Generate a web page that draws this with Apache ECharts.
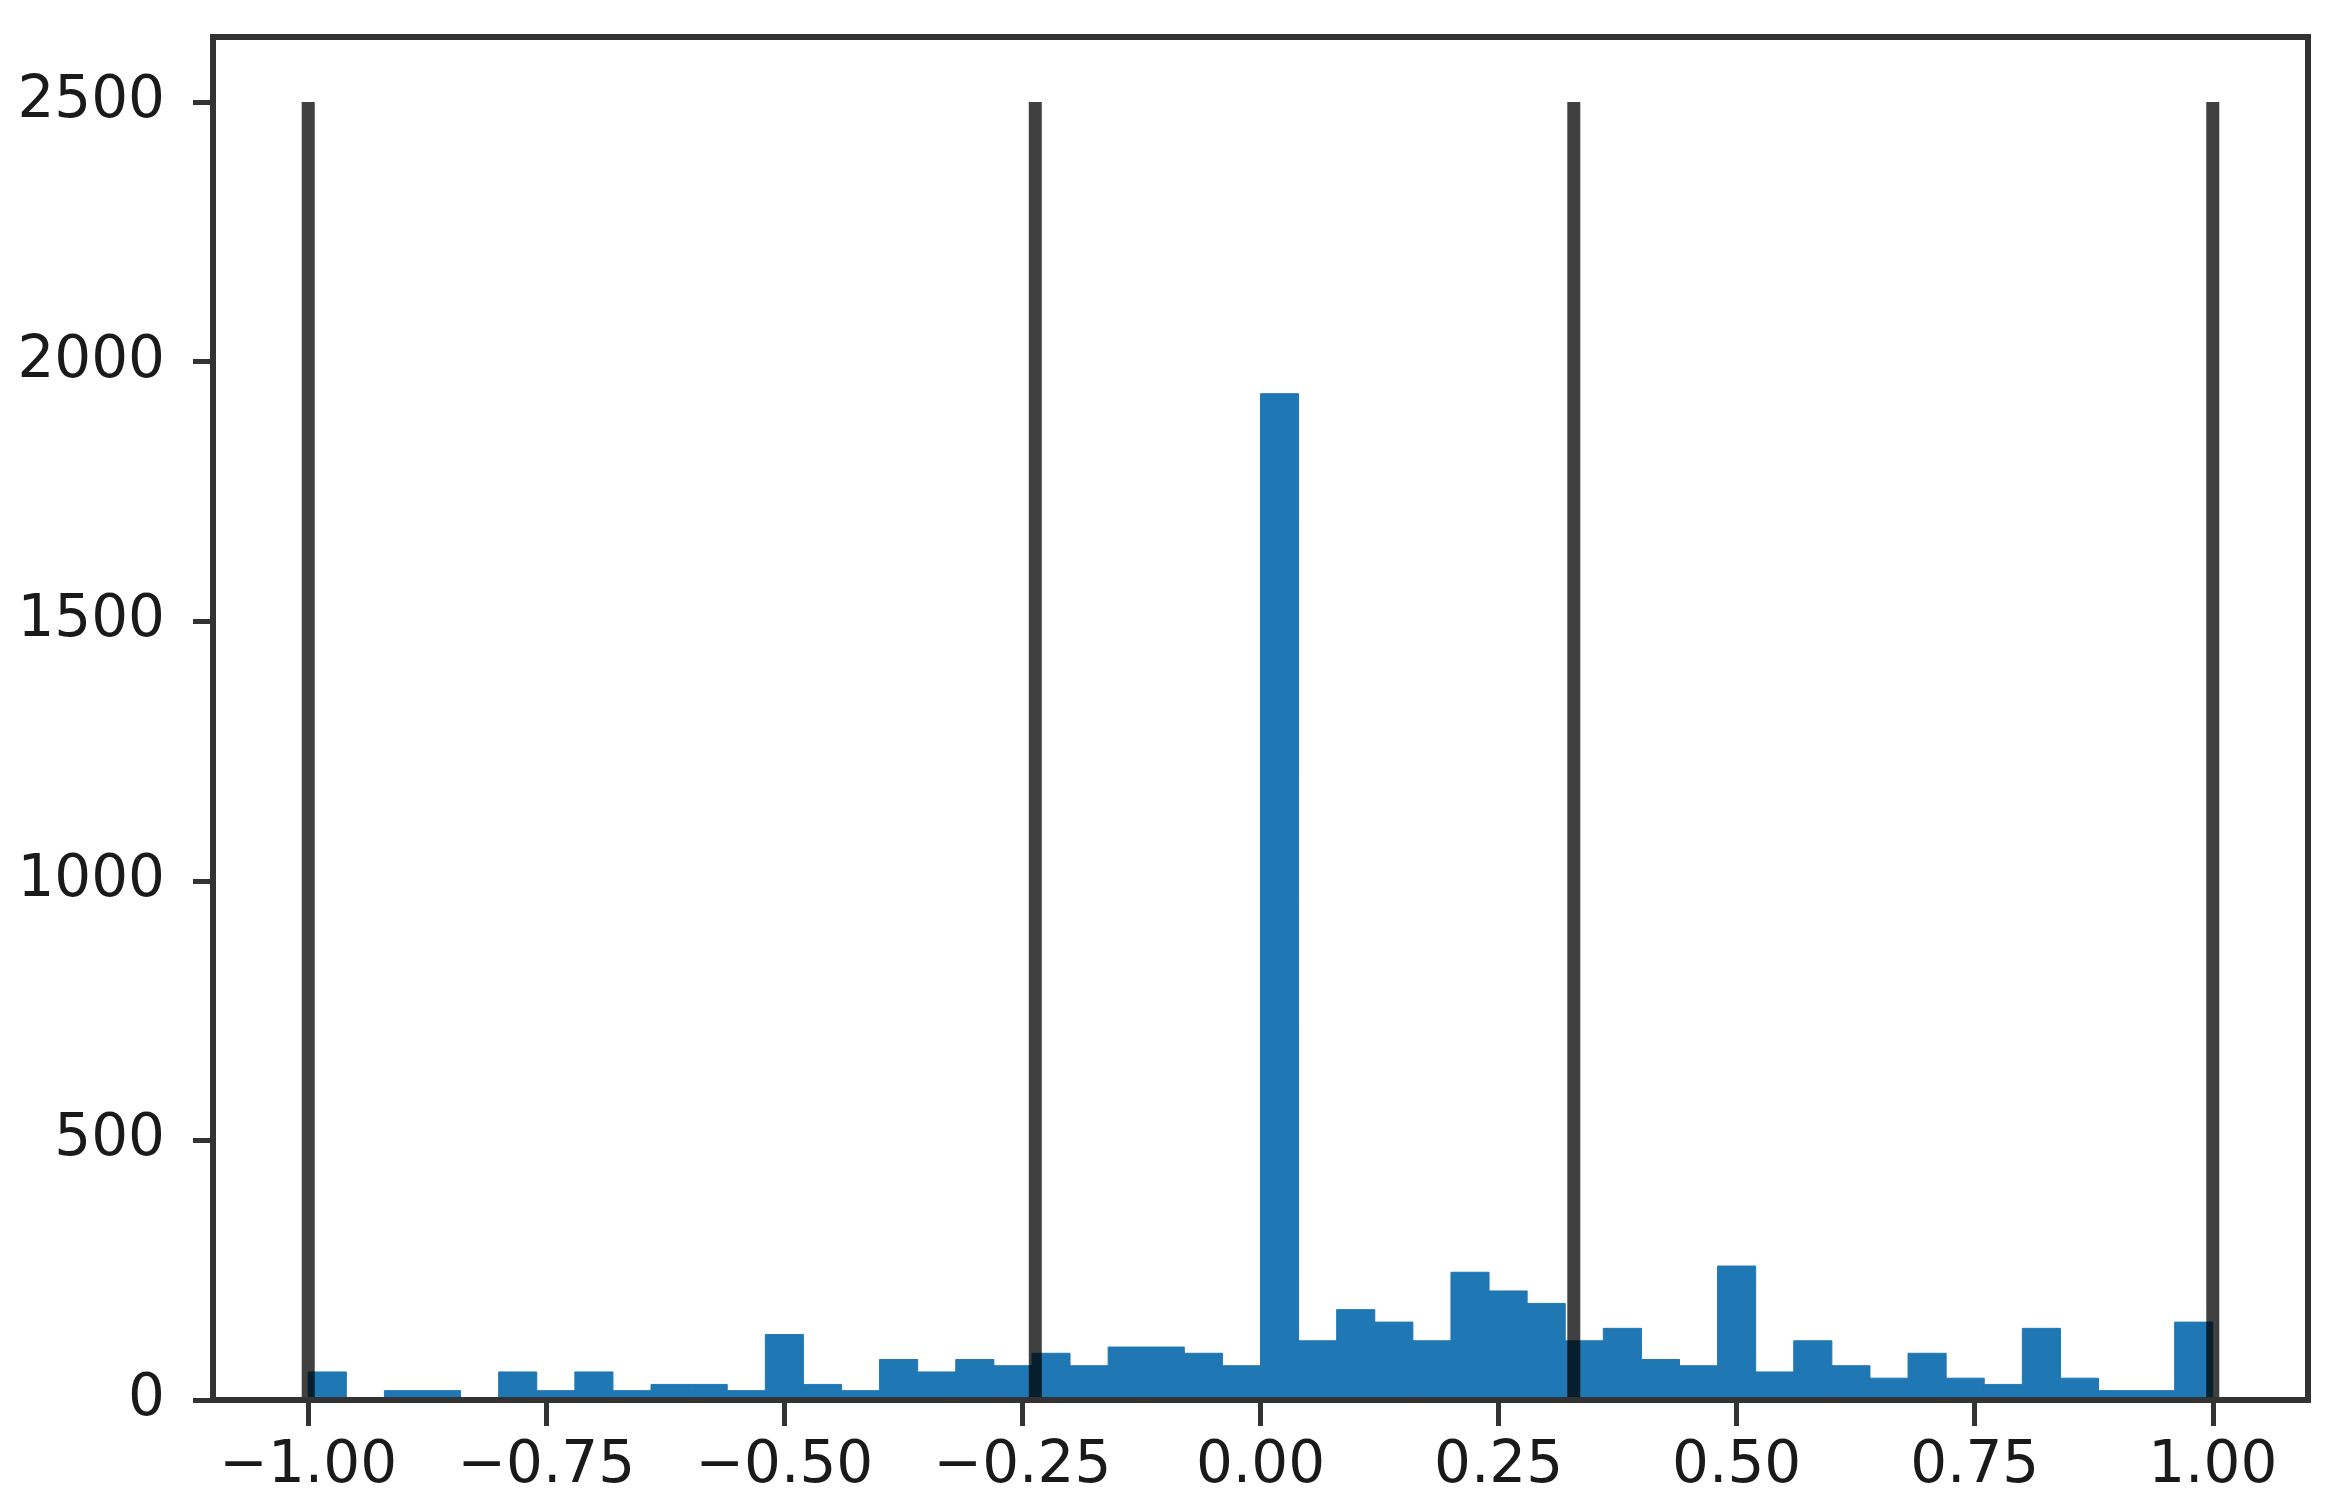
<!DOCTYPE html>
<html>
<head>
<meta charset="utf-8">
<script src="https://cdn.jsdelivr.net/npm/echarts@6/dist/echarts.min.js"></script>
<style>
    html, body { margin: 0; padding: 0; background: #fff; }
    #chart { width: 2336px; height: 1510px; }
</style>
</head>
<body>
<div id="chart"></div>
<script>
// histogram: 50 bins of width 0.04 from -1 to 1
const binStart = -1
const binWidth = 0.04
const counts = [
    54, 0, 18, 18, 0, 54, 18, 54, 18, 30,
    30, 18, 126, 30, 18, 78, 54, 78, 66, 90,
    66, 102, 102, 90, 66, 1938, 114, 174, 150, 114,
    246, 210, 186, 114, 138, 78, 66, 258, 54, 114,
    66, 42, 90, 42, 30, 138, 42, 18, 18, 150
]
// vertical marker lines
const vlineX = [-1.0, -0.2365, 0.329, 1.0]
const vlineTop = 2500
// tick labels
const xTicks = [-1, -0.75, -0.5, -0.25, 0, 0.25, 0.5, 0.75, 1]
const yTicks = [0, 500, 1000, 1500, 2000, 2500]

const bins = counts.map((c, i) => [binStart + i * binWidth, binStart + (i + 1) * binWidth, c])
const lines = vlineX.map(x => [x, vlineTop])

let myChart = echarts.init(document.getElementById('chart'))
let option = {
    backgroundColor: '#fff',
    animation: false,
    grid: {
        show: true,
        left: 213,
        right: 28,
        top: 37,
        bottom: 110,
        borderColor: '#333',
        borderWidth: 6
    },
    xAxis: {
        type: 'value',
        min: -1.1,
        max: 1.1,
        z: 10,
        splitLine: { show: false },
        axisLine: { show: true, onZero: false, lineStyle: { color: '#333', width: 6 } },
        axisTick: {
            show: true,
            length: 26,
            customValues: xTicks,
            lineStyle: { color: '#333', width: 5 }
        },
        axisLabel: {
            customValues: xTicks,
            margin: 38,
            color: '#1a1a1a',
            fontSize: 58,
            fontFamily: 'DejaVu Sans',
            formatter: function (v) {
                return v.toFixed(2).replace('-', '\u2212')
            }
        }
    },
    yAxis: {
        type: 'value',
        min: 0,
        max: 2625,
        z: 10,
        splitLine: { show: false },
        axisLine: { show: true, onZero: false, lineStyle: { color: '#333', width: 6 } },
        axisTick: {
            show: true,
            length: 20,
            customValues: yTicks,
            lineStyle: { color: '#333', width: 5 }
        },
        axisLabel: {
            customValues: yTicks,
            margin: 48,
            color: '#1a1a1a',
            fontSize: 58,
            fontFamily: 'DejaVu Sans',
            formatter: function (v) {
                return String(v)
            }
        }
    },
    series: [{
        type: 'custom',
        z: 2,
        renderItem: function (params, api) {
            let p0 = api.coord([api.value(0), api.value(2)])
            let p1 = api.coord([api.value(1), 0])
            return {
                type: 'rect',
                shape: { x: p0[0], y: p0[1], width: p1[0] - p0[0], height: p1[1] - p0[1] },
                style: { fill: '#1f77b4', stroke: '#1f77b4', lineWidth: 1 }
            }
        },
        encode: { x: [0, 1], y: 2 },
        data: bins
    }, {
        type: 'custom',
        z: 3,
        renderItem: function (params, api) {
            let top = api.coord([api.value(0), api.value(1)])
            let bottom = api.coord([api.value(0), 0])
            return {
                type: 'line',
                shape: { x1: top[0], y1: top[1], x2: bottom[0], y2: bottom[1] },
                style: { stroke: 'rgba(0,0,0,0.75)', lineWidth: 13 }
            }
        },
        encode: { x: 0, y: 1 },
        data: lines
    }]
}
myChart.setOption(option)
</script>
</body>
</html>
